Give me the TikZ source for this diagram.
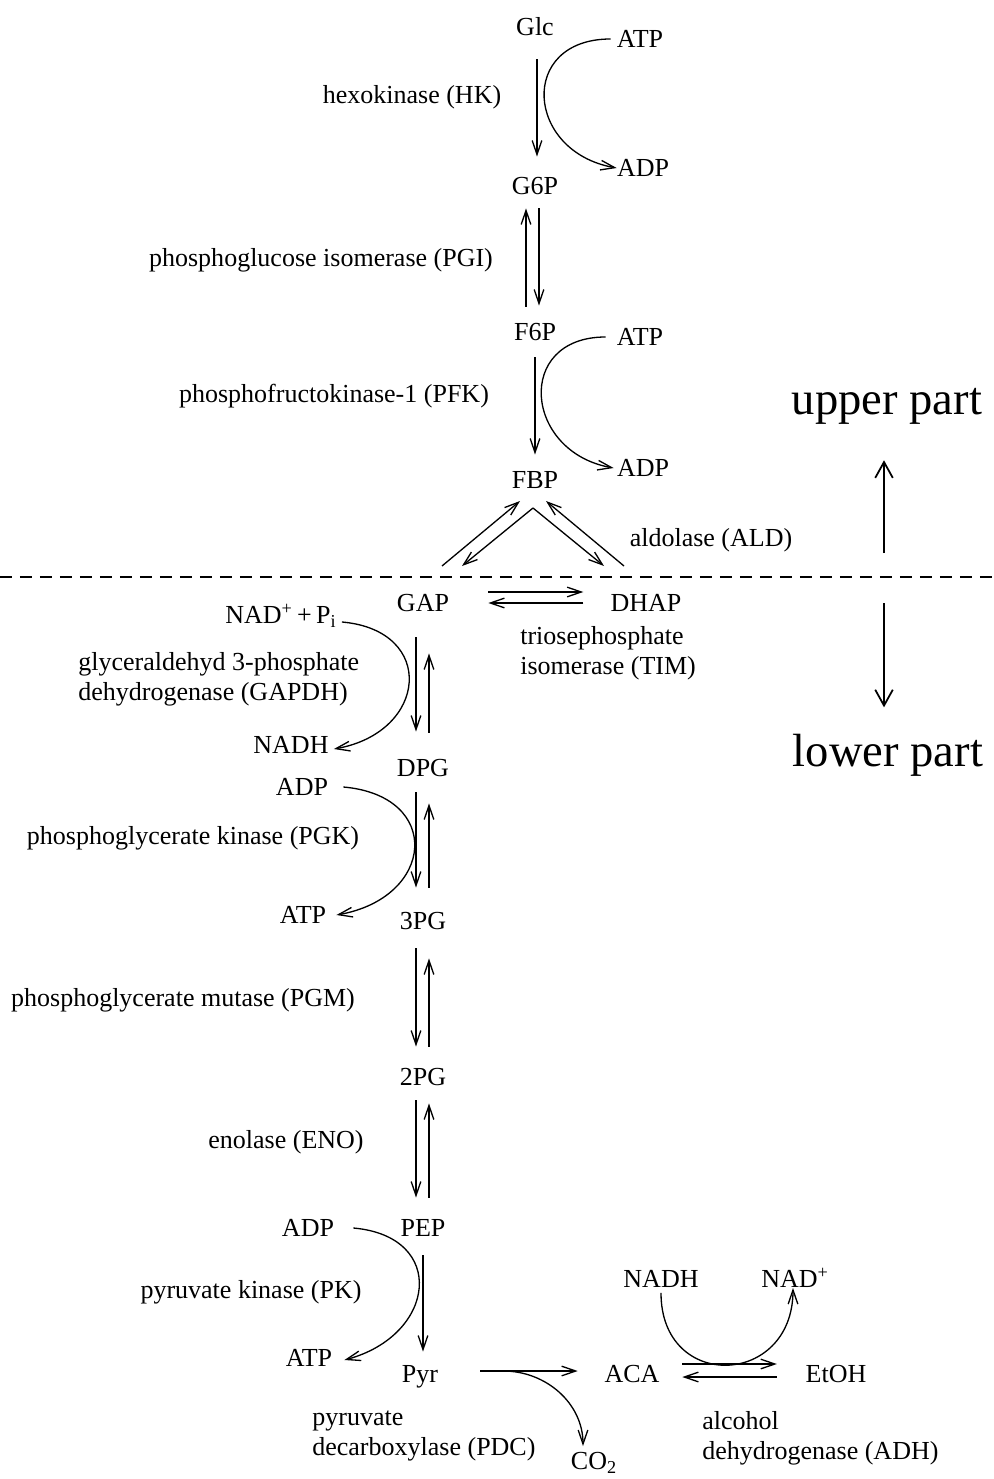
\documentclass[tikz,border=0pt]{standalone}
\usepackage{fontspec}
\setmainfont{Liberation Serif}
\usetikzlibrary{arrows.meta}

\tikzset{
  met/.style={inner sep=0pt, text height=9.8pt, text depth=0pt},
  enz/.style={inner sep=0pt, align=left},
  rxn/.style={line width=0.75pt, -{Straight Barb[length=8pt,width=5.5pt]}},
  partlabel/.style={inner sep=0pt, anchor=base, font=\fontsize{26.5}{30}\selectfont},
  partarrow/.style={line width=1pt, -{Straight Barb[length=9pt,width=10pt]}}
}

\begin{document}
\begin{tikzpicture}[x=0.02cm, y=0.02cm, font=\fontsize{14.8}{17}\selectfont]
\useasboundingbox (0,0) rectangle (993,-1479);

% Upper part: metabolites
\node[met] (glc) at (535,-27) {Glc};
\node[met] (g6p) at (535,-186) {G6P};
\node[met] (f6p) at (535,-332) {F6P};
\node[met] (fbp) at (535,-480) {FBP};
\node[met] (atpA) at (640,-39) {ATP};
\node[met] (adpA) at (643,-168) {ADP};
\node[met] (atpB) at (640,-337) {ATP};
\node[met] (adpB) at (643,-468) {ADP};

% Upper part: enzymes
\node[enz] (hk) at (412,-97) {hexokinase (HK)};
\node[enz] (pgi) at (321,-260) {phosphoglucose isomerase (PGI)};
\node[enz] (pfk) at (334,-396) {phosphofructokinase-1 (PFK)};
\node[enz] (ald) at (711,-540) {aldolase (ALD)};

% HK
\draw[rxn, shorten <=0.47cm, shorten >=0.41cm] ([xshift=0.04cm]glc.south) -- ([xshift=0.04cm]g6p.north);
\draw[rxn] ([xshift=-0.12cm]atpA.west) to[out=180, in=170, looseness=1.84] (adpA.west);

% PGI
\draw[rxn, shorten <=0.33cm, shorten >=0.27cm] ([xshift=-0.18cm]f6p.north) -- ([xshift=-0.18cm]g6p.south);
\draw[rxn, shorten <=0.27cm, shorten >=0.35cm] ([xshift=0.08cm]g6p.south) -- ([xshift=0.08cm]f6p.north);

% PFK
\draw[rxn, shorten <=0.33cm, shorten >=0.33cm] (f6p.south) -- (fbp.north);
\draw[rxn] ([xshift=-0.22cm]atpB.west) to[out=180, in=170, looseness=1.78] ([xshift=-0.06cm]adpB.west);

% ALD
\coordinate (fbpL) at (520,-501);
\coordinate (fbpR) at (546,-501);
\coordinate (aldtop) at (533,-508);
\coordinate (aldgapA) at (442,-566);
\coordinate (aldgapB) at (462,-566);
\coordinate (alddhapA) at (604,-566);
\coordinate (alddhapB) at (624,-566);
\draw[rxn] (aldgapA) -- (fbpL);
\draw[rxn] (aldtop) -- (aldgapB);
\draw[rxn] (aldtop) -- (alddhapA);
\draw[rxn] (alddhapB) -- (fbpR);

% Border between the two parts
\draw[line width=0.9pt, dash pattern=on 0.24cm off 0.16cm] (0,-577) -- (993,-577);

\node[partlabel] (upper) at (887,-415) {upper part};
\node[partlabel] (lower) at (888,-766) {lower part};
\coordinate (uptail) at (884,-553);
\coordinate (downtail) at (884,-603);
\draw[partarrow, shorten >=0.7cm] (uptail) -- (upper.south -| uptail);
\draw[partarrow, shorten >=0.52cm] (downtail) -- (lower.north -| downtail);

% Lower part: metabolites
\node[met] (gap) at (423,-603) {GAP};
\node[met] (dhap) at (646,-603) {DHAP};
\node[met] (dpg) at (423,-768) {DPG};
\node[met] (tpg) at (423,-921) {3PG};
\node[met] (twopg) at (423,-1077) {2PG};
\node[met] (pep) at (423,-1228) {PEP};
\node[met] (pyr) at (420,-1374) {Pyr};
\node[met] (aca) at (632,-1374) {ACA};
\node[met] (etoh) at (836,-1374) {EtOH};
\node[met] (co2) at (594,-1461) {CO\textsubscript{2}};

% Lower part: cofactors
\node[met] (nadpi) at (281,-615) {NAD\textsuperscript{+}\,+\,P\textsubscript{i}};
\node[met] (nadh) at (291,-745) {NADH};
\node[met] (adpC) at (302,-787) {ADP};
\node[met] (atpC) at (303,-915) {ATP};
\node[met] (adpD) at (308,-1228) {ADP};
\node[met] (atpD) at (309,-1358) {ATP};
\node[met] (nadhB) at (661,-1279) {NADH};
\node[met] (nadB) at (795,-1279) {NAD\textsuperscript{+}};

% Lower part: enzymes
\node[enz, anchor=west] (tim) at (520,-653) {triosephosphate\\isomerase (TIM)};
\node[enz, anchor=west] (gapdh) at (78,-679) {glyceraldehyd 3-phosphate\\dehydrogenase (GAPDH)};
\node[enz] (pgk) at (193,-838) {phosphoglycerate kinase (PGK)};
\node[enz] (pgm) at (183,-1000) {phosphoglycerate mutase (PGM)};
\node[enz] (eno) at (286,-1142) {enolase (ENO)};
\node[enz] (pk) at (251,-1292) {pyruvate kinase (PK)};
\node[enz, anchor=west] (pdc) at (312,-1436) {pyruvate\\decarboxylase (PDC)};
\node[enz, anchor=west] (adh) at (702,-1438) {alcohol\\dehydrogenase (ADH)};

% TIM
\draw[rxn, shorten <=0.78cm, shorten >=0.54cm] ([yshift=0.22cm]gap.east) -- ([yshift=0.22cm]dhap.west);
\draw[rxn, shorten <=0.54cm, shorten >=0.78cm] (dhap.west) -- (gap.east);

% GAPDH
\draw[rxn, shorten <=0.51cm, shorten >=0.55cm] ([xshift=-0.14cm]gap.south) -- ([xshift=-0.14cm]dpg.north);
\draw[rxn, shorten <=0.53cm, shorten >=0.83cm] ([xshift=0.12cm]dpg.north) -- ([xshift=0.12cm]gap.south);
\draw[rxn] ([xshift=0.1cm, yshift=-0.14cm]nadpi.east) to[out=-5, in=10, looseness=1.92] ([xshift=0.1cm, yshift=-0.08cm]nadh.east);

% PGK
\draw[rxn, shorten <=0.31cm, shorten >=0.49cm] ([xshift=-0.14cm]dpg.south) -- ([xshift=-0.14cm]tpg.north);
\draw[rxn, shorten <=0.49cm, shorten >=0.53cm] ([xshift=0.12cm]tpg.north) -- ([xshift=0.12cm]dpg.south);
\draw[rxn] ([xshift=0.3cm]adpC.east) to[out=-5, in=10, looseness=2.0] ([xshift=0.2cm]atpC.east);

% PGM
\draw[rxn, shorten <=0.37cm, shorten >=0.43cm] ([xshift=-0.14cm]tpg.south) -- ([xshift=-0.14cm]twopg.north);
\draw[rxn, shorten <=0.43cm, shorten >=0.57cm] ([xshift=0.12cm]twopg.north) -- ([xshift=0.12cm]tpg.south);

% ENO
\draw[rxn, shorten <=0.29cm, shorten >=0.43cm] ([xshift=-0.14cm]twopg.south) -- ([xshift=-0.14cm]pep.north);
\draw[rxn, shorten <=0.43cm, shorten >=0.35cm] ([xshift=0.12cm]pep.north) -- ([xshift=0.12cm]twopg.south);

% PK
\draw[rxn, shorten <=0.37cm, shorten >=0.27cm] (pep.south) -- (pep.south |- pyr.north);
\draw[rxn] ([xshift=0.38cm]adpD.east) to[out=-5, in=15, looseness=1.84] ([xshift=0.24cm, yshift=-0.04cm]atpD.east);

% PDC
\draw[rxn, shorten <=0.84cm, shorten >=0.53cm] ([yshift=0.06cm]pyr.east) -- ([yshift=0.06cm]aca.west);
\draw[rxn] ([xshift=1.3cm, yshift=0.06cm]pyr.east) to[out=0, in=90] ([xshift=-0.22cm, yshift=0.12cm]co2.north);

% ADH
\draw[rxn, shorten <=0.45cm, shorten >=0.57cm] ([yshift=0.2cm]aca.east) -- ([yshift=0.2cm]etoh.west);
\draw[rxn, shorten <=0.57cm, shorten >=0.45cm] ([yshift=-0.06cm]etoh.west) -- ([yshift=-0.06cm]aca.east);
\draw[rxn] ([yshift=-0.1cm]nadhB.south) to[out=-90, in=-90, looseness=1.92] ([xshift=-0.04cm]nadB.south);
\end{tikzpicture}
\end{document}
